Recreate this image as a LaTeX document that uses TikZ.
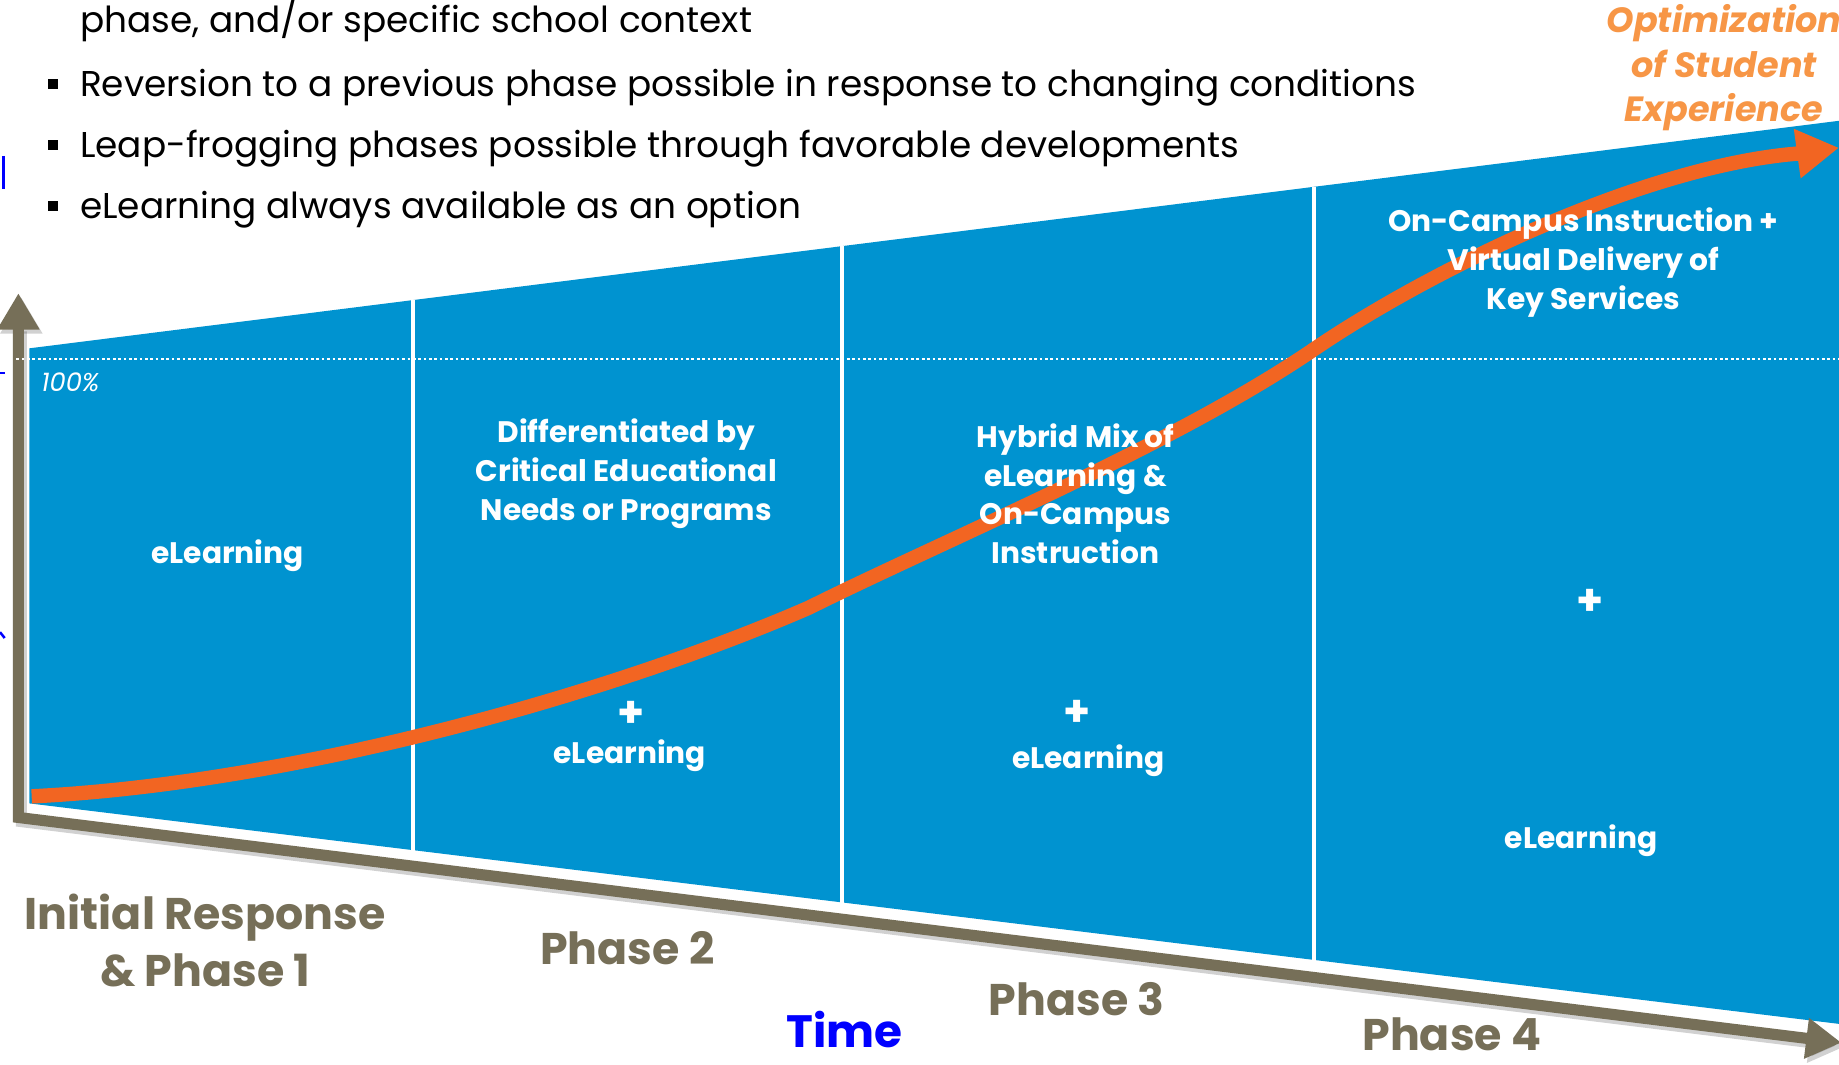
\documentclass[tikz,border=0pt]{standalone}
\usepackage{fontspec}
\setmainfont{Poppins}
\definecolor{slideblue}{HTML}{0093D0}
\definecolor{trendorange}{HTML}{F26522}
\definecolor{axisgray}{HTML}{766F58}
\definecolor{titleorange}{HTML}{F79646}
\definecolor{timeblue}{HTML}{0000FF}
\usetikzlibrary{arrows.meta, positioning}

\begin{document}
\begin{tikzpicture}[
    x=0.02cm, y=-0.02cm,
    bullettext/.style={anchor=base west, inner sep=0pt,
                       font=\fontsize{17.4}{20}\selectfont},
    bulletsq/.style={fill=black, minimum size=0.17cm, inner sep=0pt},
    inlabel/.style={text=white, align=center, inner sep=0pt,
                    font=\fontsize{14.4}{18.8}\selectfont\bfseries},
    pluslabel/.style={text=white, inner sep=0pt,
                      font=\fontsize{21}{21}\selectfont\bfseries},
    pctlabel/.style={text=white, inner sep=0pt,
                     font=\fontsize{12.5}{14}\selectfont\itshape},
    phaselabel/.style={text=axisgray, align=center, inner sep=0pt,
                       font=\fontsize{21.5}{28}\selectfont\bfseries},
    timelabel/.style={text=timeblue, anchor=base, inner sep=0pt,
                      font=\fontsize{22}{24}\selectfont\bfseries},
    optlabel/.style={text=titleorange, align=center, inner sep=0pt,
                     font=\fontsize{17}{21.6}\selectfont\bfseries\itshape},
    divider/.style={white, line width=1.9pt},
    axis/.style={axisgray, line width=5.4pt, miter limit=4,
                 {Triangle[length=0.62cm, width=0.68cm]}-{Triangle[length=0.6cm, width=0.66cm]}},
    trend/.style={trendorange, line width=7pt,
                  -{Triangle[length=0.72cm, width=0.8cm]}}
  ]
  \useasboundingbox[fill=white] (0,0) rectangle (1568,908);

  % band of the four phases
  \coordinate (bandTL) at (25,297);
  \coordinate (bandTR) at (1568,103);
  \coordinate (bandBR) at (1568,873);
  \coordinate (bandBL) at (25,685);
  \fill[slideblue] (bandTL) -- (bandTR) -- (bandBR) -- (bandBL) -- cycle;
  \foreach \x/\yt/\yb in {352/255.9/728.8, 718/209.9/773.4, 1120/159.4/822.4}
    \draw[divider] (\x,\yt) -- (\x,\yb);

  % axes with a faint shadow
  \coordinate (ytip)   at (15.7,250);
  \coordinate (origin) at (15.7,697);
  \coordinate (xtip)   at (1570,889);
  \draw[axis, black, opacity=0.18, transform canvas={shift={(2.5,3.5)}}]
    (ytip) -- (origin) -- (xtip);
  \draw[axis] (ytip) -- (origin) -- (xtip);
  \draw[white, line width=0.7pt, dash pattern=on 1.3pt off 1.3pt]
    (14,306) -- (1568,306);

  % trend line
  \coordinate (trendstart) at (27,679);
  \coordinate (trendkink)  at (690,518);
  \coordinate (trendmid)   at (1120,298);
  \coordinate (trendneck)  at (1532,131);
  \coordinate (trendtip)   at (1568,126);
  \draw[trend] (trendstart) .. controls (250,668) and (520,592) .. (trendkink)
    .. controls (800,463) and (1000,380) .. (trendmid)
    .. controls (1220,230) and (1400,142) .. (trendneck) -- (trendtip);

  % labels inside the band
  \node[pctlabel] (pct) at (60,326) {100\%};
  \node[inlabel] (el1) at (194,474) {eLearning};
  \node[inlabel] (diff) at (534,404) {Differentiated by\\Critical Educational\\Needs or Programs};
  \node[pluslabel] (plus2) at (538,609) {+};
  \node[inlabel] (el2) at (537,644) {eLearning};
  \node[inlabel] (hybrid) at (917,421) {Hybrid Mix of\\eLearning \&\\On-Campus\\Instruction};
  \node[pluslabel] (plus3) at (918,608) {+};
  \node[inlabel] (el3) at (928,649) {eLearning};
  \node[inlabel] (campus) at (1350,224) {On-Campus Instruction +\\Virtual Delivery of\\Key Services};
  \node[pluslabel] (plus4) at (1356,514) {+};
  \node[inlabel] (el4) at (1348,717) {eLearning};

  % phase names under the time axis
  \node[phaselabel] (ph1) at (175,802) {Initial Response\\\& Phase 1};
  \node[phaselabel] (ph2) at (535,808) {Phase 2};
  \node[phaselabel] (ph3) at (918,852) {Phase 3};
  \node[phaselabel] (ph4) at (1238,882) {Phase 4};
  \node[timelabel] (time) at (720,893) {Time};
  \node[optlabel] (opt) at (1470,58) {Optimization\\of Student\\Experience};

  % notes at the top
  \node[bullettext] (note0) at (68,28) {phase, and/or specific school context};
  \foreach \y/\txt [count=\i] in {82/Reversion to a previous phase possible in response to changing conditions,
                                  134/Leap-frogging phases possible through favorable developments,
                                  186/eLearning always available as an option} {
    \node[bulletsq] (bul\i) at (45.5,\y-10) {};
    \node[bullettext] (note\i) at (68,\y) {\txt};
  }

  % stray marks at the left edge
  \draw[timeblue, line width=1.2pt] (3,133) -- (3,161);
  \draw[timeblue, line width=1.2pt] (0,318) -- (4.5,318);
  \draw[timeblue, line width=1.2pt] (0,539) -- (4,544);
\end{tikzpicture}
\end{document}
